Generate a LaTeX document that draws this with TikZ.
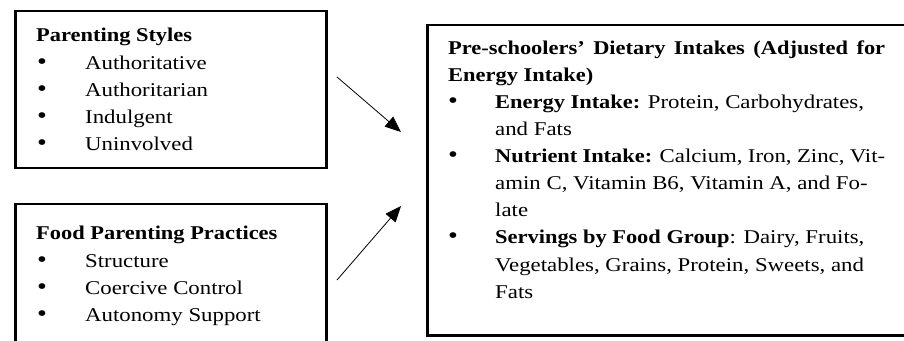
\documentclass[tikz,border=0pt]{standalone}
\usepackage{fontspec}
\setmainfont[FakeStretch=1.17, BoldFeatures={FakeStretch=1.15}]{Liberation Serif}
\usetikzlibrary{arrows.meta}
\newcommand{\bul}[1]{\makebox[#1][l]{\fontsize{24}{27}\selectfont\textbullet}}
\begin{document}
\begin{tikzpicture}[x=1pt, y=1pt,
  box/.style={draw, line width=2.5pt, anchor=north west, inner sep=0pt},
  ln/.style={anchor=base west, inner sep=0pt, font=\fontsize{19.5}{27}\selectfont},
  hd/.style={ln, font=\fontsize{19.5}{27}\selectfont\bfseries},
  link/.style={line width=0.8pt, -{Triangle[length=16pt, width=13pt]}}]
\useasboundingbox (0,0) rectangle (904,340);
% boxes
\node[box, minimum width=311, minimum height=157] (ps) at (14,330){};
\node[box, minimum width=311, minimum height=160] (fpp) at (14,137){};
\node[box, minimum width=490, minimum height=310] (di) at (426,316){};
% parenting styles
\node[hd] (ps0) at (36,298){Parenting Styles};
\node[ln] (ps1) at (37,270){\bul{48pt}Authoritative};
\node[ln] (ps2) at (37,243){\bul{48pt}Authoritarian};
\node[ln] (ps3) at (37,216){\bul{48pt}Indulgent};
\node[ln] (ps4) at (37,189){\bul{48pt}Uninvolved};
% food parenting practices
\node[hd] (fpp0) at (36,100){Food Parenting Practices};
\node[ln] (fpp1) at (37,73){\bul{48pt}Structure};
\node[ln] (fpp2) at (37,46){\bul{48pt}Coercive Control};
\node[ln] (fpp3) at (37,19){\bul{48pt}Autonomy Support};
% dietary intakes
\node[hd] (di0) at (448,285){\makebox[437pt][s]{Pre-schoolers' Dietary Intakes (Adjusted for}};
\node[hd] (di1) at (448,258){Energy Intake)};
\node[ln] (di2) at (448,231){\bul{47pt}\textbf{Energy Intake:} Protein, Carbohydrates,};
\node[ln] (di3) at (495,204){and Fats};
\node[ln] (di4) at (448,177){\bul{47pt}\makebox[390pt][s]{\textbf{Nutrient Intake:} Calcium, Iron, Zinc, Vit-}};
\node[ln] (di5) at (495,150){amin C, Vitamin B6, Vitamin A, and Fo-};
\node[ln] (di6) at (495,123){late};
\node[ln] (di7) at (448,96){\bul{47pt}\textbf{Servings by Food Group}: Dairy, Fruits,};
\node[ln] (di8) at (495,69){Vegetables, Grains, Protein, Sweets, and};
\node[ln] (di9) at (495,42){Fats};
% arrows
\coordinate (a1) at (337,263);
\coordinate (a2) at (337,60);
\coordinate (t1) at (401,208);
\coordinate (t2) at (401,134);
\draw[link] (a1) -- (t1);
\draw[link] (a2) -- (t2);
\end{tikzpicture}
\end{document}
